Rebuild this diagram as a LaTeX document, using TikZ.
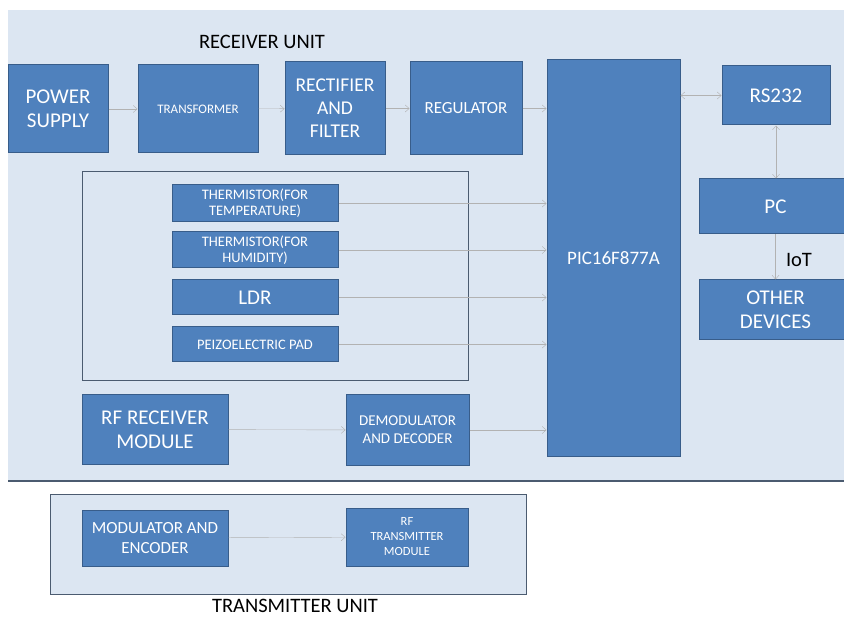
\documentclass[tikz,border=0pt]{standalone}
\usepackage{fontspec}
\setmainfont{Carlito}
\usetikzlibrary{arrows.meta}
\definecolor{boxblue}{HTML}{4F81BD}
\definecolor{boxedge}{HTML}{385D8A}
\definecolor{unitbg}{HTML}{DCE6F2}
\definecolor{framegray}{HTML}{4B5B70}
\begin{document}
\begin{tikzpicture}[x=1pt,y=-1pt,
    >={Straight Barb[length=4pt,width=7pt]},
    blk/.style={draw=boxedge,fill=boxblue,text=white,align=center,inner sep=1pt,line width=1pt},
    big/.style={font=\fontsize{21}{24}\selectfont},
    small/.style={font=\fontsize{14.5}{16}\selectfont},
    link/.style={->,gray!60,thin},
    unitlabel/.style={font=\fontsize{20.5}{24}\selectfont,text=black,inner sep=1pt}]
  \useasboundingbox (0,0) rectangle (844,620);
  % receiver background
  \fill[unitbg] (8,10) rectangle (850,481);
  \draw[framegray,line width=2pt] (8,481)--(844,481);
  \node[unitlabel] (rxlabel) at (262,42) {RECEIVER UNIT};
  % power chain
  \node[blk,big,minimum width=100,minimum height=88] (pwr) at (58,109) {POWER\\SUPPLY};
  \node[blk,font=\fontsize{13}{15}\selectfont,minimum width=120,minimum height=88] (trans) at (198,109) {TRANSFORMER};
  \node[blk,font=\fontsize{19.5}{23}\selectfont,minimum width=100,minimum height=93] (rect) at (335,108.5) {RECTIFIER\\AND\\FILTER};
  \node[blk,font=\fontsize{17}{19}\selectfont,minimum width=112,minimum height=93] (reg) at (466,108.5) {REGULATOR};
  \node[blk,font=\fontsize{19}{22}\selectfont,minimum width=133,minimum height=396] (pic) at (613.5,258) {PIC16F877A};
  % outputs
  \node[blk,big,minimum width=108,minimum height=59] (rs) at (776,95.5) {RS232};
  \node[blk,big,minimum width=153,minimum height=55] (pc) at (775.5,206.5) {PC};
  \node[blk,big,minimum width=153,minimum height=60] (oth) at (775.5,310) {OTHER\\DEVICES};
  \node[unitlabel] (iot) at (799,260) {IoT};
  % sensors
  \draw[framegray,line width=1pt] (82,172) rectangle (468,381);
  \node[blk,small,minimum width=166,minimum height=37] (temp) at (255,203.5) {THERMISTOR(FOR\\TEMPERATURE)};
  \node[blk,small,minimum width=166,minimum height=36] (hum) at (255,250) {THERMISTOR(FOR\\HUMIDITY)};
  \node[blk,big,minimum width=166,minimum height=35] (ldr) at (255,297.5) {LDR};
  \node[blk,small,minimum width=166,minimum height=35] (piezo) at (255,344.5) {PEIZOELECTRIC PAD};
  % rf receive
  \node[blk,big,minimum width=146,minimum height=69] (rfr) at (155,429.5) {RF RECEIVER\\MODULE};
  \node[blk,font=\fontsize{15}{18}\selectfont,minimum width=123,minimum height=70] (demod) at (407.5,430) {DEMODULATOR\\AND DECODER};
  % transmitter unit
  \filldraw[fill=unitbg,draw=framegray,line width=1pt] (50,494) rectangle (526,594);
  \node[blk,font=\fontsize{17}{20}\selectfont,minimum width=146,minimum height=56] (mod) at (155,538) {MODULATOR AND\\ENCODER};
  \node[blk,font=\fontsize{12.5}{15}\selectfont,minimum width=122,minimum height=58] (rft) at (407,537) {RF\\TRANSMITTER\\MODULE};
  \node[unitlabel] (txlabel) at (295,606) {TRANSMITTER UNIT};
  % connectors
  \draw[link] (pwr) -- (trans);
  \draw[link] (trans) -- (rect);
  \draw[link] (rect) -- (reg);
  \draw[link] (reg.east) -- (reg.east -| pic.west);
  \draw[link,<->] (rs.west -| pic.east) -- (rs.west);
  \draw[link,<->] (rs.south) -- (rs.south |- pc.north);
  \draw[link] (pc.south) -- (oth.north);
  \draw[link] (temp.east) -- (temp.east -| pic.west);
  \draw[link] (hum.east) -- (hum.east -| pic.west);
  \draw[link] (ldr.east) -- (ldr.east -| pic.west);
  \draw[link] (piezo.east) -- (piezo.east -| pic.west);
  \draw[link] (rfr) -- (demod);
  \draw[link] (demod.east) -- (demod.east -| pic.west);
  \draw[link] (mod) -- (rft);
\end{tikzpicture}
\end{document}
